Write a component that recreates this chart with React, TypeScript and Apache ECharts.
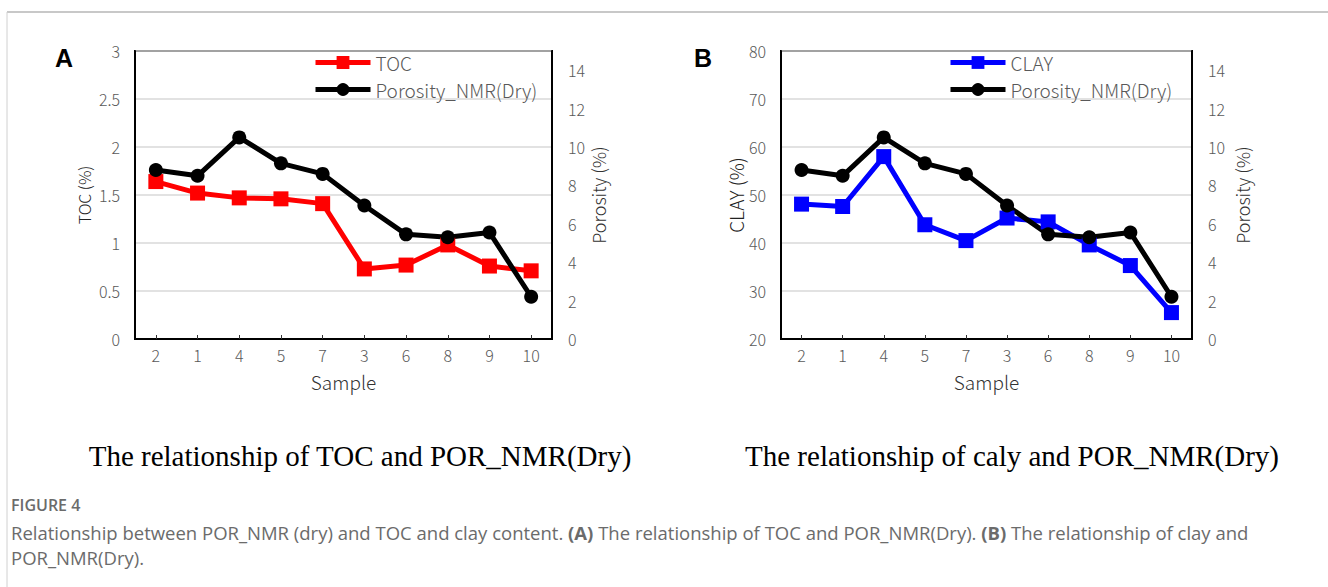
import React, { useEffect, useRef } from "react";
import * as echarts from "echarts";

const categories = ["2", "1", "4", "5", "7", "3", "6", "8", "9", "10"];
const tocValues = [1.64, 1.52, 1.47, 1.46, 1.41, 0.73, 0.77, 0.98, 0.76, 0.71];
const clayValues = [48.1, 47.6, 58.0, 43.8, 40.5, 45.2, 44.4, 39.6, 35.3, 25.5];
const porosityValues = [8.8, 8.5, 10.5, 9.15, 8.6, 6.95, 5.45, 5.3, 5.55, 2.2];

const subtitleA = "The relationship of TOC and POR_NMR(Dry)";
const subtitleB = "The relationship of caly and POR_NMR(Dry)";
const figureLabel = "FIGURE 4";
const captionLine1 =
  "Relationship between POR_NMR (dry) and TOC and clay content. {b|(A)} The relationship of TOC and POR_NMR(Dry). {b|(B)} The relationship of clay and";
const captionLine2 = "POR_NMR(Dry).";

const FONT = "'Noto Sans CJK SC', 'Noto Sans', sans-serif";
const LABEL_COLOR = "#595959";

function xAxisCfg(gridIndex: number) {
  return {
    type: "category",
    gridIndex,
    data: categories,
    boundaryGap: true,
    name: "Sample",
    nameLocation: "middle",
    nameGap: 33,
    nameTextStyle: { fontSize: 19, lineHeight: 19, color: "#333", fontFamily: FONT, fontWeight: 300 },
    axisLine: { show: true, lineStyle: { color: "#000", width: 2 } },
    axisTick: { show: true, inside: true, alignWithLabel: true, length: 4, lineStyle: { color: "#333", width: 1 } },
    axisLabel: { fontSize: 16, lineHeight: 16, color: LABEL_COLOR, fontFamily: FONT, margin: 8, fontWeight: 300 },
    splitLine: { show: false },
  };
}

function rightAxisCfg(gridIndex: number, gap: number) {
  return {
    type: "value",
    gridIndex,
    position: "right",
    min: 0,
    max: 15,
    interval: 2,
    name: "Porosity (%)",
    nameLocation: "middle",
    nameRotate: 90,
    nameGap: gap,
    nameTextStyle: { fontSize: 18, color: "#333", fontFamily: FONT, fontWeight: 300 },
    axisLine: { show: true, lineStyle: { color: "#000", width: 2 } },
    axisTick: { show: false },
    axisLabel: { fontSize: 16, color: LABEL_COLOR, fontFamily: FONT, margin: 16, showMaxLabel: false, fontWeight: 300 },
    splitLine: { show: false },
  };
}

export default function App() {
  const ref = useRef<HTMLDivElement>(null);

  useEffect(() => {
    if (!ref.current) return;
    const chart = echarts.init(ref.current, undefined, { renderer: "svg" });

    const legendText = { fontSize: 19, color: LABEL_COLOR, fontFamily: FONT, lineHeight: 19, fontWeight: 300 };

    chart.setOption({
      animation: false,
      backgroundColor: "#fff",
      grid: [
        { left: 135, right: 776, top: 51, bottom: 248, show: true, borderColor: "#000", borderWidth: 2, backgroundColor: "transparent" },
        { left: 781, right: 136, top: 51, bottom: 248, show: true, borderColor: "#000", borderWidth: 2, backgroundColor: "transparent" },
      ],
      legend: [
        {
          orient: "vertical",
          left: 313,
          top: 53,
          padding: 0,
          itemWidth: 55,
          itemHeight: 16,
          itemGap: 8,
          lineStyle: { width: 5 },
          textStyle: legendText,
          data: ["TOC", "Porosity_NMR(Dry)"],
        },
        {
          orient: "vertical",
          left: 948,
          top: 53,
          padding: 0,
          itemWidth: 55,
          itemHeight: 16,
          itemGap: 8,
          lineStyle: { width: 5 },
          textStyle: legendText,
          data: ["CLAY", "Porosity_NMR(Dry)"],
        },
      ],
      xAxis: [xAxisCfg(0), xAxisCfg(1)],
      yAxis: [
        {
          type: "value",
          gridIndex: 0,
          position: "left",
          min: 0,
          max: 3,
          interval: 0.5,
          name: "TOC (%)",
          nameLocation: "middle",
          nameRotate: 90,
          nameGap: 43,
          nameTextStyle: { fontSize: 16, color: "#222", fontFamily: FONT, fontWeight: 300 },
          axisLine: { show: true, lineStyle: { color: "#000", width: 2 } },
          axisTick: { show: false },
          axisLabel: { fontSize: 16, color: LABEL_COLOR, fontFamily: FONT, margin: 15, fontWeight: 300 },
          splitLine: { show: true, lineStyle: { color: "#d9d9d9", width: 1.5 } },
        },
        rightAxisCfg(0, 29),
        {
          type: "value",
          gridIndex: 1,
          position: "left",
          min: 20,
          max: 80,
          interval: 10,
          name: "CLAY (%)",
          nameLocation: "middle",
          nameRotate: 90,
          nameGap: 33,
          nameTextStyle: { fontSize: 19, color: "#222", fontFamily: FONT, fontWeight: 300 },
          axisLine: { show: true, lineStyle: { color: "#000", width: 2 } },
          axisTick: { show: false },
          axisLabel: { fontSize: 16, color: LABEL_COLOR, fontFamily: FONT, margin: 15, fontWeight: 300 },
          splitLine: { show: true, lineStyle: { color: "#d9d9d9", width: 1.5 } },
        },
        rightAxisCfg(1, 41),
      ],
      series: [
        {
          type: "line",
          name: "TOC",
          xAxisIndex: 0,
          yAxisIndex: 0,
          data: tocValues,
          symbol: "rect",
          symbolSize: 15,
          lineStyle: { color: "#ff0000", width: 5 },
          itemStyle: { color: "#ff0000" },
        },
        {
          type: "line",
          name: "Porosity_NMR(Dry)",
          xAxisIndex: 0,
          yAxisIndex: 1,
          data: porosityValues,
          symbol: "circle",
          symbolSize: 14,
          lineStyle: { color: "#000", width: 5 },
          itemStyle: { color: "#000" },
        },
        {
          type: "line",
          name: "CLAY",
          xAxisIndex: 1,
          yAxisIndex: 2,
          data: clayValues,
          symbol: "rect",
          symbolSize: 15,
          lineStyle: { color: "#0000ff", width: 5 },
          itemStyle: { color: "#0000ff" },
        },
        {
          type: "line",
          name: "Porosity_NMR(Dry)",
          xAxisIndex: 1,
          yAxisIndex: 3,
          data: porosityValues,
          symbol: "circle",
          symbolSize: 14,
          lineStyle: { color: "#000", width: 5 },
          itemStyle: { color: "#000" },
        },
      ],
      graphic: [
        { type: "line", shape: { x1: 7, y1: 12, x2: 1328, y2: 12 }, style: { stroke: "#c8c8c8", lineWidth: 2 } },
        { type: "line", shape: { x1: 7, y1: 12, x2: 7, y2: 587 }, style: { stroke: "#d0d0d0", lineWidth: 1 } },
        {
          type: "text",
          x: 55,
          y: 58,
          style: { text: "A", fontSize: 25, fontWeight: "bold", fontFamily: "'Liberation Sans', Arial, sans-serif", fill: "#000", verticalAlign: "middle" },
        },
        {
          type: "text",
          x: 694,
          y: 58,
          style: { text: "B", fontSize: 25, fontWeight: "bold", fontFamily: "'Liberation Sans', Arial, sans-serif", fill: "#000", verticalAlign: "middle" },
        },
        {
          type: "text",
          x: 360,
          y: 456,
          style: { text: subtitleA, fontSize: 29, fontFamily: "'Liberation Serif', 'Times New Roman', serif", fill: "#000", align: "center", verticalAlign: "middle" },
        },
        {
          type: "text",
          x: 1012,
          y: 456,
          style: { text: subtitleB, fontSize: 29, fontFamily: "'Liberation Serif', 'Times New Roman', serif", fill: "#000", align: "center", verticalAlign: "middle" },
        },
        {
          type: "text",
          x: 11,
          y: 505,
          style: { text: figureLabel, fontSize: 16, fontWeight: 600, fontFamily: "'Open Sans', sans-serif", fill: "#6b6b6b", verticalAlign: "middle" },
        },
        {
          type: "text",
          x: 11,
          y: 532,
          style: {
            text: captionLine1,
            fontSize: 18.5,
            fontFamily: "'Open Sans', sans-serif",
            fill: "#6b6b6b",
            verticalAlign: "middle",
            rich: { b: { fontSize: 18.5, fontWeight: "bold", fontFamily: "'Open Sans', sans-serif", fill: "#6b6b6b" } },
          },
        },
        {
          type: "text",
          x: 11,
          y: 557,
          style: { text: captionLine2, fontSize: 18.5, fontFamily: "'Open Sans', sans-serif", fill: "#6b6b6b", verticalAlign: "middle" },
        },
      ],
    });

    return () => chart.dispose();
  }, []);

  return <div ref={ref} style={{ position: "fixed", left: 0, top: 0, width: 1328, height: 587 }} />;
}
